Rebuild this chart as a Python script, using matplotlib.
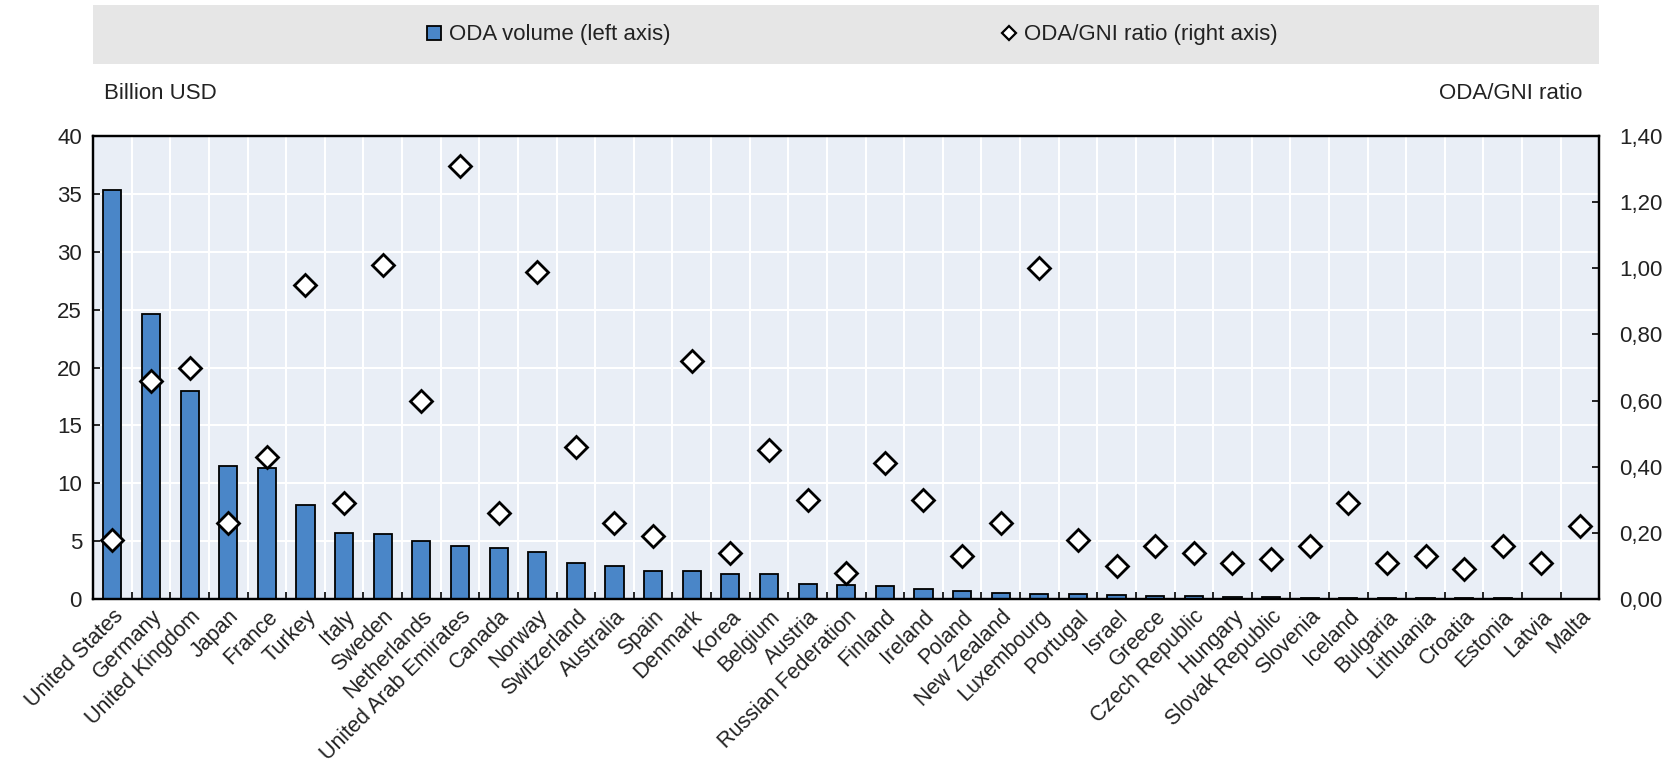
import matplotlib
matplotlib.use("Agg")
import matplotlib.pyplot as plt
from matplotlib.patches import Rectangle
from matplotlib.ticker import FuncFormatter, FixedLocator
import numpy as np

plt.rcParams['font.family'] = ['Liberation Sans', 'DejaVu Sans']

countries = ["United States", "Germany", "United Kingdom", "Japan", "France", "Turkey", "Italy",
             "Sweden", "Netherlands", "United Arab Emirates", "Canada", "Norway", "Switzerland",
             "Australia", "Spain", "Denmark", "Korea", "Belgium", "Austria", "Russian Federation",
             "Finland", "Ireland", "Poland", "New Zealand", "Luxembourg", "Portugal", "Israel",
             "Greece", "Czech Republic", "Hungary", "Slovak Republic", "Slovenia", "Iceland",
             "Bulgaria", "Lithuania", "Croatia", "Estonia", "Latvia", "Malta"]

# ODA volume, billion USD (left axis)
oda_volume = [35.3, 24.6, 18.0, 11.5, 11.3, 8.1, 5.7, 5.6, 5.0, 4.6, 4.4, 4.1, 3.1,
              2.9, 2.4, 2.4, 2.2, 2.2, 1.3, 1.2, 1.1, 0.85, 0.7, 0.5, 0.45,
              0.4, 0.33, 0.3, 0.3, 0.2, 0.15, 0.1, 0.07, 0.07, 0.06, 0.06, 0.05, 0.04, 0.03]

# ODA/GNI ratio (right axis)
oda_gni = [0.18, 0.66, 0.70, 0.23, 0.43, 0.95, 0.29, 1.01, 0.60, 1.31, 0.26, 0.99, 0.46,
           0.23, 0.19, 0.72, 0.14, 0.45, 0.30, 0.08, 0.41, 0.30, 0.13, 0.23, 1.00,
           0.18, 0.10, 0.16, 0.14, 0.11, 0.12, 0.16, 0.29, 0.11, 0.13, 0.09, 0.16, 0.11, 0.22]

bar_color = '#4a86c8'
bg_color = '#e9eef6'
text_color = '#222222'

fig = plt.figure(figsize=(16.8, 7.73), dpi=100)
ax = fig.add_axes([0.0554, 0.225, 0.8966, 0.599])
x = np.arange(len(countries))

ax.set_facecolor(bg_color)
ax.bar(x, oda_volume, width=0.47, color=bar_color, edgecolor='black', linewidth=1.3, zorder=2)
ax.set_xlim(-0.5, len(countries) - 0.5)
ax.set_ylim(0, 40)
ax.set_yticks(range(0, 41, 5))
ax.set_xticks(x)
ax.set_xticklabels(countries, rotation=45, ha='right', rotation_mode='anchor',
                   fontsize=15.5, color=text_color)
ax.xaxis.set_minor_locator(FixedLocator(x[:-1] + 0.5))
ax.tick_params(axis='x', which='major', length=0, pad=5)
ax.tick_params(axis='x', which='minor', direction='in', length=5, width=1.2)
ax.tick_params(axis='y', direction='in', length=5, width=1.2, labelsize=16,
               labelcolor=text_color, pad=8)
ax.grid(axis='y', which='major', color='white', linewidth=1.5, zorder=0)
ax.grid(axis='x', which='minor', color='white', linewidth=1.5, zorder=0)
ax.set_axisbelow(True)
for s in ax.spines.values():
    s.set_linewidth(1.6)
    s.set_color('black')

ax2 = ax.twinx()
ax2.plot(x, oda_gni, linestyle='none', marker='D', markersize=11, markerfacecolor='white',
         markeredgecolor='black', markeredgewidth=2, zorder=3)
ax2.set_ylim(0, 1.4)
ax2.set_yticks(np.arange(0, 1.41, 0.2))
ax2.yaxis.set_major_formatter(FuncFormatter(lambda v, p: f"{v:.2f}".replace('.', ',')))
ax2.tick_params(axis='y', direction='in', length=5, width=1.2, labelsize=16,
                labelcolor=text_color, pad=14)
for s in ax2.spines.values():
    s.set_linewidth(1.6)

fig.text(0.062, 0.865, "Billion USD", fontsize=16, color=text_color, ha='left', va='bottom')
fig.text(0.942, 0.865, "ODA/GNI ratio", fontsize=16, color=text_color, ha='right', va='bottom')

# legend band
fig.patches.append(Rectangle((0.0554, 0.917), 0.8966, 0.0763, transform=fig.transFigure,
                             facecolor='#e6e6e6', edgecolor='none', zorder=0))
h1 = plt.Line2D([], [], linestyle='none', marker='s', markersize=10, markerfacecolor=bar_color,
                markeredgecolor='black', markeredgewidth=1.3)
h2 = plt.Line2D([], [], linestyle='none', marker='D', markersize=7, markerfacecolor='white',
                markeredgecolor='black', markeredgewidth=1.6)
leg1 = fig.legend([h1], ["ODA volume (left axis)"], loc='center', bbox_to_anchor=(0.326, 0.955),
                  frameon=False, fontsize=16, handlelength=0.8, handletextpad=0.3)
leg2 = fig.legend([h2], ["ODA/GNI ratio (right axis)"], loc='center', bbox_to_anchor=(0.678, 0.955),
                  frameon=False, fontsize=16, handlelength=0.8, handletextpad=0.3)
for leg in (leg1, leg2):
    for t in leg.get_texts():
        t.set_color(text_color)

fig.savefig("out.png", dpi=100)
